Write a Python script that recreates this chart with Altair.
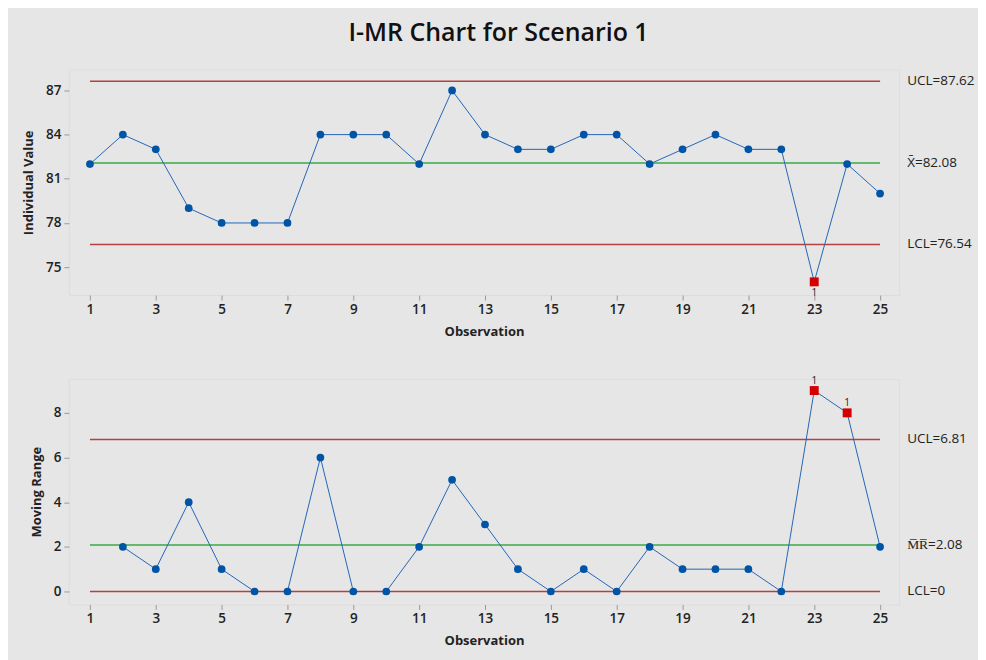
import altair as alt
import pandas as pd

# ---- data ----
obs = list(range(1, 26))
values = [82, 84, 83, 79, 78, 78, 78, 84, 84, 84, 82, 87, 84, 83, 83, 84, 84, 82, 83, 84, 83, 83, 74, 82, 80]
i_flags = [o == 23 for o in obs]

mr_obs = list(range(2, 26))
mr_values = [2, 1, 4, 1, 0, 0, 6, 0, 0, 2, 5, 3, 1, 0, 1, 0, 2, 1, 1, 1, 0, 9, 8, 2]
mr_flags = [o in (23, 24) for o in mr_obs]

i_limit_values = [87.62, 82.08, 76.54]
i_limit_labels = ["UCL=87.62", "X\u0304=82.08", "LCL=76.54"]
mr_limit_values = [6.81, 2.08, 0.0]
mr_limit_labels = ["UCL=6.81", "M\u0305R\u0305=2.08", "LCL=0"]
limit_colors = ["#b5403f", "#3aa845", "#b5403f"]

x_ticks = list(range(1, 26, 2))
i_ticks = [75, 78, 81, 84, 87]
mr_ticks = [0, 2, 4, 6, 8]

BLUE_LINE = "#2466b8"
BLUE_PT = "#0054a6"
RED_PT = "#d40000"
W, H = 832, 226
FONT = "Open Sans"


def panel(xs, ys, flags, lim_vals, lim_labels, ydomain, yticks, ytitle, flag_dy):
    df = pd.DataFrame({"obs": xs, "val": ys, "flag": flags})
    lim = pd.DataFrame({"y": lim_vals, "label": lim_labels, "color": limit_colors})
    x = alt.X("obs:Q",
              scale=alt.Scale(domain=[0.36, 25.58], nice=False, zero=False),
              axis=alt.Axis(values=x_ticks, title="Observation", grid=False, domain=False,
                            labelFontWeight=600, labelFontSize=13.5, labelColor="#222",
                            tickColor="#999", tickSize=5, labelPadding=2,
                            titleFontSize=13, titleFontWeight="bold", titlePadding=10,
                            titleColor="#222"))
    y = alt.Y("val:Q",
              scale=alt.Scale(domain=ydomain, nice=False, zero=False),
              axis=alt.Axis(values=yticks, title=ytitle, grid=False, domain=False,
                            labelFontWeight=600, labelFontSize=13.5, labelColor="#222",
                            tickColor="#999", tickSize=5, labelPadding=3,
                            titleFontSize=13, titleFontWeight="bold", titlePadding=10,
                            titleColor="#222"))
    base = alt.Chart(df)
    rules = alt.Chart(lim).mark_rule(strokeWidth=1.5).encode(
        x=alt.X(datum=1), x2=alt.X2(datum=25),
        y=alt.Y("y:Q"),
        color=alt.Color("color:N", scale=None))
    labels = alt.Chart(lim).mark_text(align="left", baseline="middle", fontSize=13.5,
                                      font=FONT, color="#222").encode(
        x=alt.value(W + 8), y=alt.Y("y:Q"), text="label:N")
    line = base.mark_line(color=BLUE_LINE, strokeWidth=1).encode(x=x, y=y)
    pts = base.transform_filter("!datum.flag").mark_point(
        shape="circle", filled=True, size=60, color=BLUE_PT, opacity=1).encode(x=x, y=y)
    sq = base.transform_filter("datum.flag").mark_point(
        shape="square", filled=True, size=80, color=RED_PT, opacity=1).encode(x=x, y=y)
    flag_txt = base.transform_filter("datum.flag").mark_text(
        fontSize=10, font=FONT, dy=flag_dy, color="#222").encode(x=x, y=y, text=alt.value("1"))
    return alt.layer(rules, line, pts, sq, flag_txt, labels).properties(width=W, height=H)


top = panel(obs, values, i_flags, i_limit_values, i_limit_labels, [73.10, 88.42],
            i_ticks, "Individual Value", 11)
bottom = panel(mr_obs, mr_values, mr_flags, mr_limit_values, mr_limit_labels, [-0.58, 9.52],
               mr_ticks, "Moving Range", -10)

chart = alt.vconcat(top, bottom, spacing=36).properties(
    title=alt.Title("I-MR Chart for Scenario 1", fontSize=25, font=FONT, fontWeight=600,
                    color="#111", anchor="middle", offset=23),
    background="#e6e6e6",
    padding={"left": 14, "top": 12, "right": 2, "bottom": 20},
).configure_view(stroke="#8f8f8f", fill="white", strokeWidth=1).configure(font=FONT)

chart.save("out.html", embed_options={"renderer": "svg", "actions": False})
